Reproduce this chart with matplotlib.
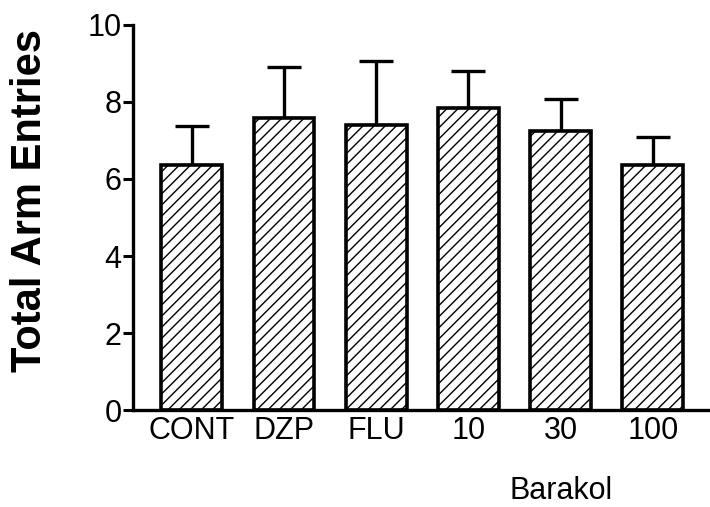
import matplotlib
matplotlib.use("Agg")
import matplotlib.pyplot as plt

groups = ['CONT', 'DZP', 'FLU', '10', '30', '100']
means = [6.36, 7.58, 7.40, 7.84, 7.25, 6.36]
sems = [1.02, 1.33, 1.67, 0.97, 0.83, 0.73]

plt.rcParams['font.family'] = ['Liberation Sans', 'DejaVu Sans']
plt.rcParams['hatch.linewidth'] = 1.0

fig = plt.figure(figsize=(7.10, 5.07), dpi=100)
ax = fig.add_axes([0.187, 0.191, 0.813, 0.760])

x = list(range(len(groups)))
ax.bar(x, means, width=0.66, color='white', edgecolor='black',
       linewidth=2.6, hatch='///', zorder=2)
ax.errorbar(x, means, yerr=[[0] * len(sems), sems], fmt='none',
            ecolor='black', elinewidth=2.4, capsize=12, capthick=2.4, zorder=1)

ax.set_xlim(-0.64, 5.62)
ax.set_ylim(0, 10)
ax.set_yticks([0, 2, 4, 6, 8, 10])
ax.set_xticks(x)
ax.set_xticklabels(groups)
ax.tick_params(axis='y', direction='out', length=7, width=2.2, labelsize=22, pad=1)
ax.tick_params(axis='x', length=0, labelsize=22, pad=4)

for s in ['top', 'right']:
    ax.spines[s].set_visible(False)
for s in ['left', 'bottom']:
    ax.spines[s].set_linewidth(2.4)

fig.text(0.042, 0.605, 'Total Arm Entries', rotation=90, ha='center', va='center',
         fontsize=30, fontweight='bold')
fig.text(0.79, 0.032, 'Barakol', ha='center', va='center', fontsize=22)

fig.savefig('out.png', dpi=100)
